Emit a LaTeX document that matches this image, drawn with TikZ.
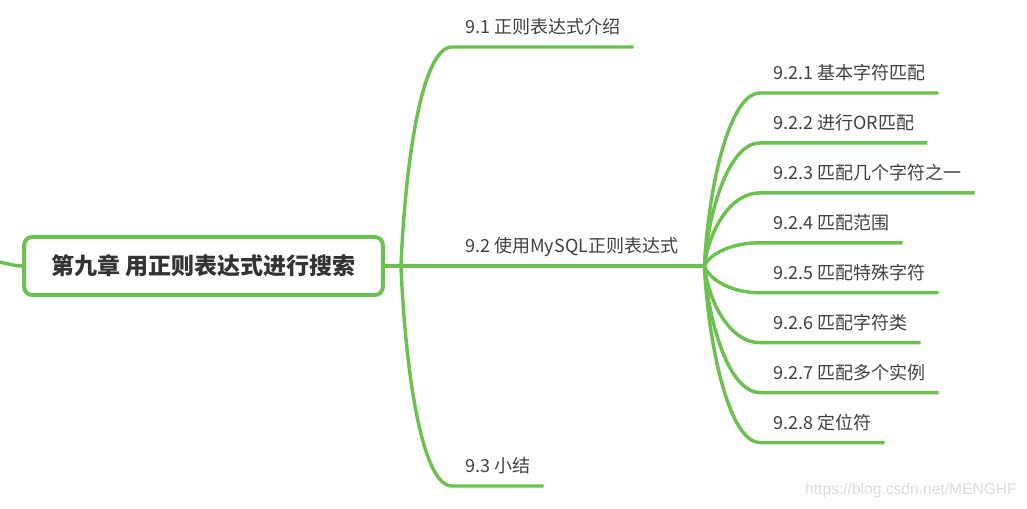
\documentclass[tikz,border=0pt]{standalone}
\usepackage{fontspec}
\setmainfont{Noto Sans CJK SC}
\newfontfamily\urlfont{Liberation Sans}
\usetikzlibrary{positioning,calc}
\definecolor{mapgreen}{RGB}{108,193,80}
\definecolor{rootgray}{RGB}{51,51,51}
\definecolor{labelgray}{RGB}{64,64,64}

\begin{document}
\begin{tikzpicture}[x=0.75pt, y=-0.75pt, node distance=18.3pt]
    % Define styles
    \tikzstyle{rootbox} = [rectangle, rounded corners=6pt, draw=mapgreen, line width=3pt, fill=white, minimum width=269pt, minimum height=43.5pt, text=rootgray, font=\bfseries\fontsize{17.25}{20}\selectfont]
    \tikzstyle{topic} = [inner xsep=9.75pt, inner ysep=0pt, text height=9pt, text depth=9.75pt, text=labelgray, font=\fontsize{13.5}{16}\selectfont]
    \tikzstyle{branch} = [draw=mapgreen, line width=2.6pt, line join=round]
    \tikzstyle{sprout} = [to path={.. controls ($(\tikztostart)!0.45!(\tikztostart |- \tikztotarget) + (4,0)$) and ($(\tikztotarget) + (-31,0)$) .. (\tikztotarget)}]
    \tikzstyle{stamp} = [inner sep=0pt, text=black!14, font=\urlfont\fontsize{11.7}{14}\selectfont]

    \useasboundingbox (0,0) rectangle (1027,509);
    \clip (0,0) rectangle (1027,509);

    % Central topic
    \node [rootbox] (root) at (203.5,266) {第九章 用正则表达式进行搜索};
    \coordinate (parent) at (-12,261);
    \coordinate (j1) at (401,266);

    % First-level topics
    \node [topic, anchor=south west] (intro) at (452,47) {9.1 正则表达式介绍};
    \node [topic, anchor=south west] (mysql) at (452,266) {9.2 使用MySQL正则表达式};
    \node [topic, anchor=south west] (summary) at (452,486) {9.3 小结};
    \coordinate [right=9.75pt of mysql.south east] (j2);

    % Subtopics of 9.2, stacked downwards
    \node [topic, anchor=south west] (basic) at (760,93) {9.2.1 基本字符匹配};
    \node [topic, below=of basic.south west, anchor=north west] (orMatch) {9.2.2 进行OR匹配};
    \node [topic, below=of orMatch.south west, anchor=north west] (oneOf) {9.2.3 匹配几个字符之一};
    \node [topic, below=of oneOf.south west, anchor=north west] (range) {9.2.4 匹配范围};
    \node [topic, below=of range.south west, anchor=north west] (special) {9.2.5 匹配特殊字符};
    \node [topic, below=of special.south west, anchor=north west] (classes) {9.2.6 匹配字符类};
    \node [topic, below=of classes.south west, anchor=north west] (repeat) {9.2.7 匹配多个实例};
    \node [topic, below=of repeat.south west, anchor=north west] (anchors) {9.2.8 定位符};

    \node [stamp, anchor=east] (mark) at (1017,490) {https://blog.csdn.net/MENGHF};

    % Branches
    \draw [branch] (parent) .. controls (6,262) and (12,266) .. (root.west);
    \draw [branch] (root.east) -- (j1) -- (mysql.south west) -- (mysql.south east) -- (j2);
    \draw [branch] (j1) to[sprout] (intro.south west) -- (intro.south east);
    \draw [branch] (j1) to[sprout] (summary.south west) -- (summary.south east);

    % Twigs to the subtopics
    \draw [branch] (j2) to[sprout] (basic.south west) -- (basic.south east);
    \draw [branch] (j2) to[sprout] (orMatch.south west) -- (orMatch.south east);
    \draw [branch] (j2) to[sprout] (oneOf.south west) -- (oneOf.south east);
    \draw [branch] (j2) to[sprout] (range.south west) -- (range.south east);
    \draw [branch] (j2) to[sprout] (special.south west) -- (special.south east);
    \draw [branch] (j2) to[sprout] (classes.south west) -- (classes.south east);
    \draw [branch] (j2) to[sprout] (repeat.south west) -- (repeat.south east);
    \draw [branch] (j2) to[sprout] (anchors.south west) -- (anchors.south east);
\end{tikzpicture}
\end{document}
